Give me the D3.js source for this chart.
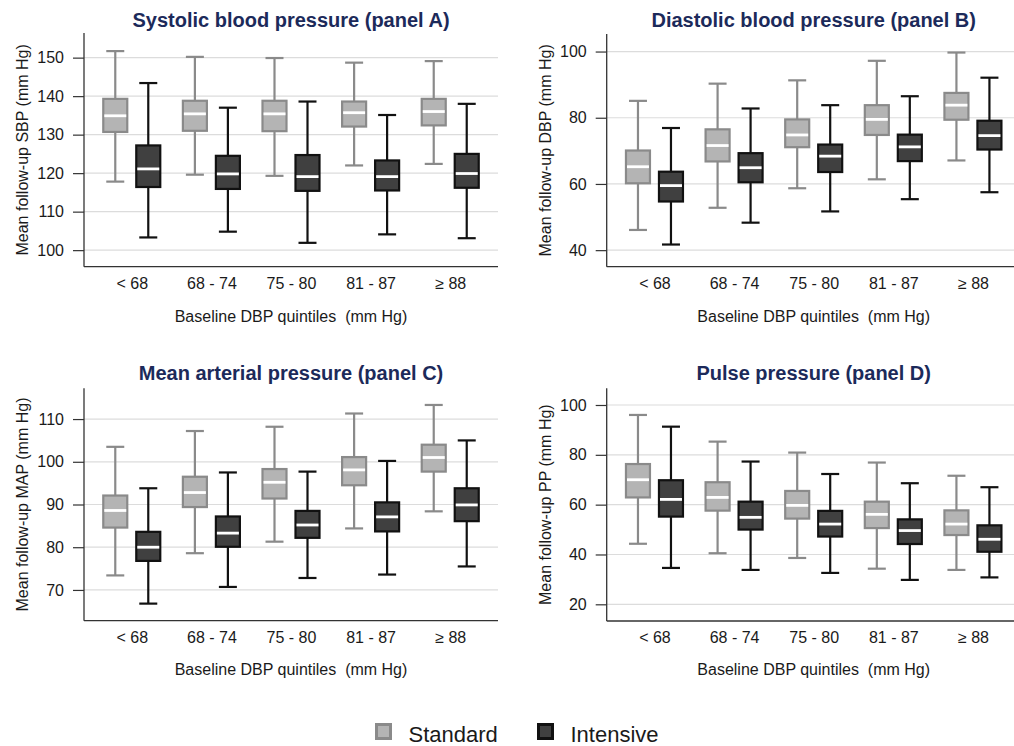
<!DOCTYPE html>
<html><head><meta charset="utf-8">
<script src="https://cdn.jsdelivr.net/npm/d3@7"></script>
<style>
body{margin:0;background:#fff;}
svg{display:block;font-family:"Liberation Sans",Arial,sans-serif;}
text{white-space:pre;}
</style></head>
<body><svg id="chart" width="1014" height="746"></svg>
<script>
const categories = ["< 68","68 - 74","75 - 80","81 - 87","\u2265 88"];
const seriesNames = ["Standard","Intensive"];
const xTitle = "Baseline DBP quintiles  (mm Hg)";

// each entry: [whiskerLow, q1, median, q3, whiskerHigh]
const sbpStandard  = [[117.8,130.7,134.9,139.3,151.7],[119.6,131.0,135.4,138.8,150.2],[119.3,130.9,135.4,138.8,149.9],[122.0,132.1,135.7,138.6,148.7],[122.4,132.4,136.0,139.3,149.1]];
const sbpIntensive = [[103.3,116.4,121.1,127.2,143.4],[104.8,115.9,119.8,124.5,137.0],[101.9,115.4,119.1,124.7,138.6],[104.1,115.5,119.1,123.3,135.1],[103.1,116.2,119.9,125.0,138.0]];
const dbpStandard  = [[46.1,60.2,65.2,70.1,85.1],[52.8,66.8,71.6,76.5,90.3],[58.7,71.1,74.8,79.5,91.3],[61.4,74.8,79.5,83.8,97.2],[67.1,79.4,83.8,87.5,99.7]];
const dbpIntensive = [[41.7,54.7,59.5,63.7,76.9],[48.3,60.5,64.9,69.3,82.8],[51.7,63.6,68.4,71.9,83.8],[55.4,66.9,71.2,74.9,86.5],[57.5,70.4,74.6,79.1,92.1]];
const mapStandard  = [[73.4,84.6,88.6,92.1,103.5],[78.6,89.4,92.8,96.5,107.2],[81.3,91.4,95.2,98.3,108.2],[84.4,94.5,98.1,101.1,111.3],[88.4,97.7,101.0,104.0,113.3]];
const mapIntensive = [[66.8,76.8,80.0,83.6,93.8],[70.7,80.1,83.3,87.2,97.5],[72.8,82.2,85.2,88.5,97.7],[73.6,83.7,87.1,90.5,100.2],[75.5,86.1,89.9,93.8,105.0]];
const ppStandard   = [[44.3,62.9,70.0,76.3,96.0],[40.5,57.6,62.9,69.0,85.3],[38.6,54.4,59.7,65.5,80.9],[34.3,50.6,56.1,61.2,76.9],[33.8,47.8,52.2,57.7,71.6]];
const ppIntensive  = [[34.6,55.2,62.1,69.8,91.3],[33.8,50.0,54.9,61.2,77.3],[32.6,47.2,52.2,57.5,72.3],[29.8,44.2,49.6,54.1,68.6],[30.8,41.1,46.1,51.7,67.0]];

const panelTitles = ["Systolic blood pressure (panel A)","Diastolic blood pressure (panel B)","Mean arterial pressure (panel C)","Pulse pressure (panel D)"];
const yTitles = ["Mean follow-up SBP (mm Hg)","Mean follow-up DBP (mm Hg)","Mean follow-up MAP (mm Hg)","Mean follow-up PP (mm Hg)"];
const yDomains = [[95.7,156.4],[35.0,105.3],[62.8,117.2],[13.3,106.7]];
const yTicks = [[100,110,120,130,140,150],[40,60,80,100],[70,80,90,100,110],[20,40,60,80,100]];
const panelData = [[sbpStandard,sbpIntensive],[dbpStandard,dbpIntensive],[mapStandard,mapIntensive],[ppStandard,ppIntensive]];

const svg = d3.select("#chart");
const styles = [
  {fill:"#b4b4b4", stroke:"#8a8a8a"},
  {fill:"#404040", stroke:"#111111"}
];
const panels = [
  {x0:84, x1:498, y0:33, y1:266.7, titleY:26.7, catY:289.3, xtY:321.7, ytX:22},
  {x0:606.7, x1:1020.7, y0:34, y1:266.7, titleY:26.7, catY:289.3, xtY:321.7, ytX:545},
  {x0:84, x1:498, y0:388.3, y1:620.7, titleY:380, catY:643.3, xtY:675, ytX:22},
  {x0:606.7, x1:1020.7, y0:388.3, y1:621, titleY:380, catY:643.3, xtY:675, ytX:545}
];

panels.forEach((p,i)=>{
  const g = svg.append("g");
  const x = d3.scalePoint().domain(categories).range([p.x0,p.x1]).padding(0.6);
  const xs = d3.scaleBand().domain(seriesNames).range([-33,33]).paddingInner(0);
  const y = d3.scaleLinear().domain(yDomains[i]).range([p.y1,p.y0]);
  const boxW = 26, capW = 18;

  // gridlines
  g.append("g").selectAll("line").data(yTicks[i]).join("line")
    .attr("x1",p.x0).attr("x2",p.x1).attr("y1",d=>y(d)).attr("y2",d=>y(d))
    .attr("stroke","#dcdcdc").attr("stroke-width",1.2);

  // y axis
  const ya = g.append("g").attr("transform",`translate(${p.x0},0)`)
    .call(d3.axisLeft(y).tickValues(yTicks[i]).tickSize(11).tickPadding(9).tickSizeOuter(0));
  ya.select(".domain").remove();
  ya.selectAll(".tick line").attr("stroke","#333").attr("stroke-width",1.2);
  ya.selectAll(".tick text").attr("font-size","16px").attr("fill","#1a1a1a").attr("font-family","Liberation Sans, Arial, sans-serif");

  // x axis (labels only)
  const xa = g.append("g").attr("transform",`translate(0,${p.y1})`)
    .call(d3.axisBottom(x).tickSize(0).tickPadding(0));
  xa.select(".domain").remove();
  xa.selectAll(".tick text").attr("font-size","16px").attr("fill","#1a1a1a")
    .attr("font-family","Liberation Sans, Arial, sans-serif")
    .attr("dy",null).attr("y",p.catY-p.y1);

  // axis lines
  g.append("line").attr("x1",p.x0).attr("x2",p.x0).attr("y1",p.y0).attr("y2",p.y1).attr("stroke","#333").attr("stroke-width",1.3);
  g.append("line").attr("x1",p.x0).attr("x2",p.x1).attr("y1",p.y1).attr("y2",p.y1).attr("stroke","#333").attr("stroke-width",1.3);

  // boxes
  seriesNames.forEach((s,si)=>{
    const st = styles[si];
    const data = panelData[i][si];
    const bg = g.append("g").selectAll("g").data(data).join("g")
      .attr("transform",(d,k)=>`translate(${x(categories[k]) + xs(s) + xs.bandwidth()/2},0)`);
    bg.append("line").attr("x1",0).attr("x2",0).attr("y1",d=>y(d[0])).attr("y2",d=>y(d[4]))
      .attr("stroke",st.stroke).attr("stroke-width",2.2);
    bg.append("line").attr("x1",-capW/2).attr("x2",capW/2).attr("y1",d=>y(d[4])).attr("y2",d=>y(d[4]))
      .attr("stroke",st.stroke).attr("stroke-width",2.2);
    bg.append("line").attr("x1",-capW/2).attr("x2",capW/2).attr("y1",d=>y(d[0])).attr("y2",d=>y(d[0]))
      .attr("stroke",st.stroke).attr("stroke-width",2.2);
    bg.append("rect").attr("x",-boxW/2+1).attr("width",boxW-2)
      .attr("y",d=>y(d[3])).attr("height",d=>y(d[1])-y(d[3]))
      .attr("fill",st.fill).attr("stroke",st.stroke).attr("stroke-width",2.2);
    bg.append("line").attr("x1",-boxW/2+2).attr("x2",boxW/2-2).attr("y1",d=>y(d[2])).attr("y2",d=>y(d[2]))
      .attr("stroke","#ffffff").attr("stroke-width",2.8);
  });

  // titles
  g.append("text").attr("x",(p.x0+p.x1)/2).attr("y",p.titleY).attr("text-anchor","middle")
    .attr("font-size","20px").attr("font-weight","bold").attr("fill","#1c2a5a").text(panelTitles[i]);
  g.append("text").attr("x",(p.x0+p.x1)/2).attr("y",p.xtY).attr("text-anchor","middle")
    .attr("font-size","16px").attr("fill","#1a1a1a").text(xTitle);
  g.append("text").attr("transform",`translate(${p.ytX},${(p.y0+p.y1)/2}) rotate(-90)`)
    .attr("text-anchor","middle").attr("dy","0.35em")
    .attr("font-size","16px").attr("fill","#1a1a1a").text(yTitles[i]);
});

// legend
const legendX = [383.5, 545.5];
const leg = svg.append("g").selectAll("g").data(seriesNames).join("g")
  .attr("transform",(d,i)=>`translate(${legendX[i]},731.5)`);
leg.append("rect").attr("x",-7).attr("y",-7).attr("width",14).attr("height",14)
  .attr("fill",(d,i)=>styles[i].fill).attr("stroke",(d,i)=>styles[i].stroke).attr("stroke-width",3);
leg.append("text").attr("x",25).attr("y",10).attr("font-size","22px").attr("fill","#1a1a1a").text(d=>d);
</script>
</body></html>
